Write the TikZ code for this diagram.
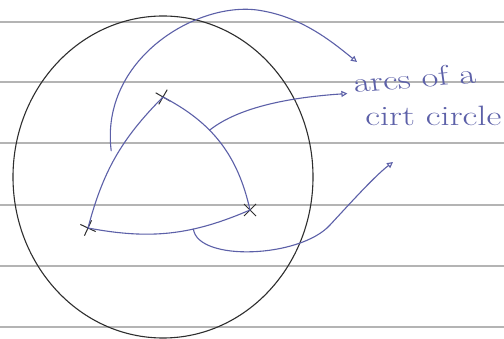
\documentclass[tikz,border=0pt]{standalone}
\usepackage{xcolor}
\usepackage{tikz}
\usetikzlibrary{arrows.meta, positioning, shapes.misc}
\definecolor{ruleline}{HTML}{B4B4B4}
\definecolor{penblue}{HTML}{5C60A8}
\definecolor{penblack}{HTML}{2E2E2E}

\tikzset{
  pen/.style={penblue, line width=1.1pt, line cap=round},
  pointer/.style={pen, -{Triangle[open, length=6pt, width=6pt]}},
  mark x/.style={cross out, draw=penblack, line width=1pt, minimum size=11pt, inner sep=0pt},
  hand/.style={penblue, font=\fontsize{28}{30}\selectfont, inner sep=0pt, anchor=west,
    xscale=1.3, transform shape}
}

\begin{document}
\begin{tikzpicture}[x=1pt, y=-1pt]
\useasboundingbox (0,0) rectangle (504,339);
\fill[white] (0,0) rectangle (504,339);
% ruled lines of the page
\foreach \yy in {22,82,143,205,266,327}
  \draw[ruleline, line width=1.4pt] (0,\yy) -- (504,\yy);
% the big circle
\draw[penblack, line width=1.1pt] (163,177) ellipse [x radius=150pt, y radius=161pt];
% the three points
\node[mark x, rotate=15] (cT) at (163,97) {};
\node[mark x] (cR) at (250,210) {};
\node[mark x, rotate=20] (cL) at (88,228) {};
% arcs between them
\draw[pen] (cL.center) to[bend left=15] coordinate[pos=0.55] (aLT) (cT.center);
\draw[pen] (cT.center) to[bend left=25] coordinate[pos=0.38] (aTR) (cR.center);
\draw[pen] (cR.center) to[bend left=17] coordinate[pos=0.35] (aRL) (cL.center);
% label
\node[hand, rotate=6] (lbA) at (353,83) {arcs of a};
\node[hand] (lbB) at (365,116) {cirt circle};
% pointers to the label
\draw[pointer] (aLT) ++(-8,0) coordinate (sA)
  (sA) .. controls (100,60) and (195,2) .. (257,10)
  .. controls (300,16) and (330,40) .. (357,62);
\draw[pointer, shorten >=7pt] (aTR) .. controls (235,110) and (280,98) .. (lbA.south west);
\draw[pointer] (aRL) .. controls (198,262) and (300,258) .. (330,225)
  .. controls (355,198) and (375,176) .. (393,162);
\end{tikzpicture}
\end{document}
